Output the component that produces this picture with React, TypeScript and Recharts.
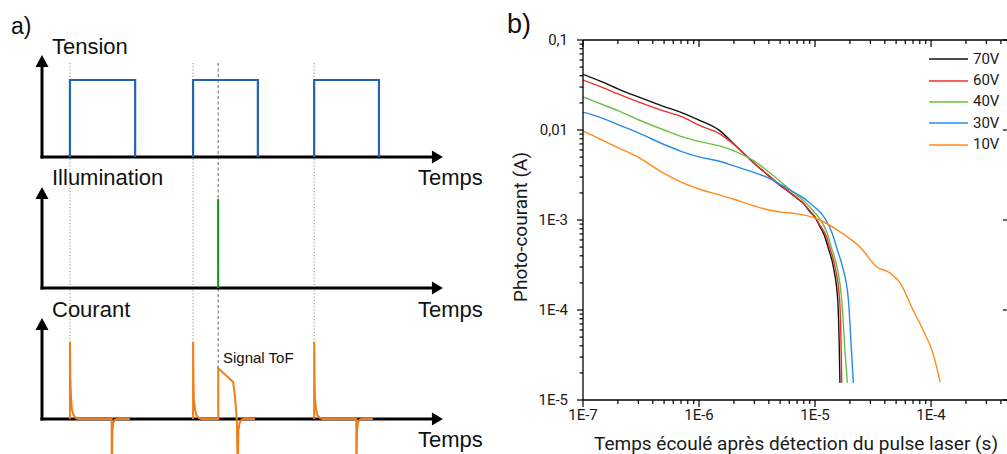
import React from 'react';
import {
  ComposedChart,
  LineChart,
  Line,
  Scatter,
  XAxis,
  YAxis,
  ReferenceLine,
  Legend,
} from 'recharts';

// ---------- panel a : schematic, arbitrary time units ----------
const pulseStarts = [0.69, 3.73, 6.72];
const laserTime = 4.35;

const tension = [
  { t: 0.69, v: 0 }, { t: 0.69, v: 1 }, { t: 2.3, v: 1 }, { t: 2.3, v: 0 }, { t: 3.0, v: null },
  { t: 3.73, v: 0 }, { t: 3.73, v: 1 }, { t: 5.33, v: 1 }, { t: 5.33, v: 0 }, { t: 6.0, v: null },
  { t: 6.72, v: 0 }, { t: 6.72, v: 1 }, { t: 8.32, v: 1 }, { t: 8.32, v: 0 },
];

const illumination = [{ t: 4.35, v: 0 }, { t: 4.35, v: 1 }];

const courant = [
  { t: 0.69, v: 0 }, { t: 0.69, v: 1 }, { t: 0.7, v: 0.51 }, { t: 0.72, v: 0.25 }, { t: 0.74, v: 0.12 },
  { t: 0.78, v: 0.05 }, { t: 0.84, v: 0.01 }, { t: 0.9, v: 0 }, { t: 1.72, v: 0 }, { t: 1.72, v: -1 },
  { t: 1.73, v: -0.45 }, { t: 1.74, v: -0.14 }, { t: 1.76, v: -0.05 }, { t: 1.8, v: -0.01 }, { t: 1.85, v: 0 },
  { t: 2.17, v: 0 }, { t: 2.5, v: null },
  { t: 3.73, v: 0 }, { t: 3.73, v: 1 }, { t: 3.74, v: 0.51 }, { t: 3.75, v: 0.25 }, { t: 3.78, v: 0.12 },
  { t: 3.81, v: 0.05 }, { t: 3.88, v: 0.01 }, { t: 3.94, v: 0 }, { t: 4.35, v: 0 }, { t: 4.35, v: 0.66 },
  { t: 4.72, v: 0.48 }, { t: 4.765, v: 0.29 }, { t: 4.79, v: 0.12 }, { t: 4.81, v: -0.01 }, { t: 4.825, v: -0.45 },
  { t: 4.83, v: -1 }, { t: 4.84, v: -0.45 }, { t: 4.85, v: -0.14 }, { t: 4.88, v: -0.05 }, { t: 4.93, v: -0.01 },
  { t: 4.97, v: 0 }, { t: 5.26, v: 0 }, { t: 5.5, v: null },
  { t: 6.72, v: 0 }, { t: 6.72, v: 1 }, { t: 6.73, v: 0.51 }, { t: 6.74, v: 0.25 }, { t: 6.77, v: 0.12 },
  { t: 6.8, v: 0.05 }, { t: 6.87, v: 0.01 }, { t: 6.93, v: 0 }, { t: 7.76, v: 0 }, { t: 7.76, v: -1 },
  { t: 7.77, v: -0.45 }, { t: 7.78, v: -0.14 }, { t: 7.8, v: -0.05 }, { t: 7.84, v: -0.01 }, { t: 7.89, v: 0 },
  { t: 8.17, v: 0 },
];

// ---------- panel b : photocurrent (A) vs time (s) ----------
const v70 = [
  { t: 1e-7, i: 0.0416 }, { t: 1.5e-7, i: 0.0338 }, { t: 2e-7, i: 0.0287 }, { t: 3e-7, i: 0.0233 },
  { t: 5e-7, i: 0.0182 }, { t: 7e-7, i: 0.0157 }, { t: 1e-6, i: 0.0129 }, { t: 1.5e-6, i: 0.0099 },
  { t: 2e-6, i: 0.007 }, { t: 3e-6, i: 0.00425 }, { t: 4e-6, i: 0.00308 }, { t: 5e-6, i: 0.00242 },
  { t: 6e-6, i: 0.00204 }, { t: 7e-6, i: 0.00174 }, { t: 8e-6, i: 0.00151 }, { t: 9e-6, i: 0.00124 },
  { t: 1e-5, i: 0.00107 }, { t: 1.1e-5, i: 0.00085 }, { t: 1.2e-5, i: 0.00068 }, { t: 1.3e-5, i: 0.00049 },
  { t: 1.44e-5, i: 0.0003 }, { t: 1.57e-5, i: 0.000129 }, { t: 1.62e-5, i: 0.000036 }, { t: 1.64e-5, i: 0.0000155 },
];

const v60 = [
  { t: 1e-7, i: 0.0359 }, { t: 1.5e-7, i: 0.0294 }, { t: 2e-7, i: 0.0252 }, { t: 3e-7, i: 0.0205 },
  { t: 5e-7, i: 0.0162 }, { t: 7e-7, i: 0.0142 }, { t: 1e-6, i: 0.0113 }, { t: 1.5e-6, i: 0.0091 },
  { t: 2e-6, i: 0.0069 }, { t: 3e-6, i: 0.00428 }, { t: 4e-6, i: 0.00311 }, { t: 5e-6, i: 0.00245 },
  { t: 6e-6, i: 0.00206 }, { t: 7e-6, i: 0.00176 }, { t: 8e-6, i: 0.00153 }, { t: 9e-6, i: 0.00127 },
  { t: 1e-5, i: 0.00109 }, { t: 1.1e-5, i: 0.00088 }, { t: 1.24e-5, i: 0.00068 }, { t: 1.34e-5, i: 0.00049 },
  { t: 1.49e-5, i: 0.0003 }, { t: 1.63e-5, i: 0.000129 }, { t: 1.68e-5, i: 0.000036 }, { t: 1.7e-5, i: 0.0000155 },
];

const v40 = [
  { t: 1e-7, i: 0.0233 }, { t: 1.5e-7, i: 0.019 }, { t: 2e-7, i: 0.0164 }, { t: 3e-7, i: 0.013 },
  { t: 5e-7, i: 0.01 }, { t: 7e-7, i: 0.0085 }, { t: 1e-6, i: 0.00747 }, { t: 1.5e-6, i: 0.00665 },
  { t: 2e-6, i: 0.00586 }, { t: 3e-6, i: 0.0045 }, { t: 4e-6, i: 0.00341 }, { t: 5e-6, i: 0.0027 },
  { t: 6e-6, i: 0.00219 }, { t: 7e-6, i: 0.00188 }, { t: 8e-6, i: 0.00164 }, { t: 9e-6, i: 0.0014 },
  { t: 1e-5, i: 0.0012 }, { t: 1.1e-5, i: 0.00103 }, { t: 1.27e-5, i: 0.00072 }, { t: 1.4e-5, i: 0.00047 },
  { t: 1.55e-5, i: 0.0003 }, { t: 1.7e-5, i: 0.000129 }, { t: 1.81e-5, i: 0.000036 }, { t: 1.9e-5, i: 0.0000155 },
];

const v30 = [
  { t: 1e-7, i: 0.0158 }, { t: 1.5e-7, i: 0.0134 }, { t: 2e-7, i: 0.0115 }, { t: 3e-7, i: 0.0093 },
  { t: 5e-7, i: 0.0069 }, { t: 7e-7, i: 0.0058 }, { t: 1e-6, i: 0.00502 }, { t: 1.5e-6, i: 0.0045 },
  { t: 2e-6, i: 0.00399 }, { t: 3e-6, i: 0.00336 }, { t: 4e-6, i: 0.00292 }, { t: 5e-6, i: 0.00249 },
  { t: 6e-6, i: 0.00219 }, { t: 7e-6, i: 0.00194 }, { t: 8e-6, i: 0.00175 }, { t: 9e-6, i: 0.00155 },
  { t: 1e-5, i: 0.00138 }, { t: 1.14e-5, i: 0.00117 }, { t: 1.25e-5, i: 0.00098 }, { t: 1.39e-5, i: 0.00074 },
  { t: 1.58e-5, i: 0.00044 }, { t: 1.73e-5, i: 0.0003 }, { t: 1.94e-5, i: 0.000129 }, { t: 2.06e-5, i: 0.000036 },
  { t: 2.14e-5, i: 0.0000155 },
];

const v10 = [
  { t: 1e-7, i: 0.00975 }, { t: 1.5e-7, i: 0.0076 }, { t: 2e-7, i: 0.00637 }, { t: 3e-7, i: 0.00496 },
  { t: 5e-7, i: 0.00329 }, { t: 7e-7, i: 0.00264 }, { t: 1e-6, i: 0.00221 }, { t: 1.5e-6, i: 0.0019 },
  { t: 2e-6, i: 0.0017 }, { t: 3e-6, i: 0.00143 }, { t: 4e-6, i: 0.00129 }, { t: 5e-6, i: 0.00123 },
  { t: 7e-6, i: 0.00117 }, { t: 1e-5, i: 0.00105 }, { t: 1.1e-5, i: 0.001 }, { t: 1.64e-5, i: 0.00074 },
  { t: 2.44e-5, i: 0.0005 }, { t: 3.42e-5, i: 0.0003 }, { t: 4.43e-5, i: 0.000258 }, { t: 5.41e-5, i: 0.0002 },
  { t: 7e-5, i: 0.0001 }, { t: 8.54e-5, i: 0.00006 }, { t: 1.04e-4, i: 0.000033 }, { t: 1.2e-4, i: 0.0000158 },
];

const seriesNames = ['70V', '60V', '40V', '30V', '10V'];
const seriesColors = ['#111111', '#f0302a', '#6cbd45', '#2a8ae8', '#ff8a18'];
const seriesData = [v70, v60, v40, v30, v10];

const xMajor = [1e-7, 1e-6, 1e-5, 1e-4];
const xMajorLabels = ['1E-7', '1E-6', '1E-5', '1E-4'];
const yMajor = [1e-5, 1e-4, 1e-3, 0.01, 0.1];
const yMajorLabels = ['1E-5', '1E-4', '1E-3', '0,01', '0,1'];
const minorSteps = [2, 3, 4, 5, 6, 7, 8, 9];

const X_MAX = 4.7e-4;
const xMinor = xMajor.flatMap((d) => minorSteps.map((m) => d * m)).filter((v) => v <= X_MAX);
const yMinor = yMajor.slice(0, 4).flatMap((d) => minorSteps.map((m) => d * m));
const xTicks = [...xMajor, ...xMinor];
const yTicks = [...yMajor, ...yMinor];

const ARIAL = "'Liberation Sans', Arial, sans-serif";
const ROBOTO = 'Roboto, sans-serif';

// ---------- panel a layout ----------
const A_W = 500;
const A_H = 454;
const T0_PX = 42;
const PX_PER_T = 40.5;
const T_MIN = -0.5;
const T_MAX = 10.2;
const T_TIP = 9.9;
const T_ARROW_BASE = 9.63;

const bands = [
  { id: 'v', base: 157, unit: 77, tip: 55, data: tension, color: '#2464ac', width: 2.2 },
  { id: 'i', base: 288, unit: 89, tip: 187, data: illumination, color: '#1e8c1e', width: 2 },
  { id: 'c', base: 419, unit: 77, tip: 318, data: courant, color: '#f07d1a', width: 2 },
];

const bandDomain = (base: number, unit: number) => [-(A_H - base) / unit, base / unit];
const guideTop = (419 - 63) / 77;

const RightArrow = (p: any) => (
  <polygon points={`${p.cx},${p.cy} ${p.cx - 11},${p.cy - 6.5} ${p.cx - 11},${p.cy + 6.5}`} fill="#000" />
);
const UpArrow = (p: any) => (
  <polygon points={`${p.cx},${p.cy} ${p.cx - 6.5},${p.cy + 12} ${p.cx + 6.5},${p.cy + 12}`} fill="#000" />
);

const PanelA = () => {
  const left = T0_PX + T_MIN * PX_PER_T;
  const right = A_W - left - (T_MAX - T_MIN) * PX_PER_T;
  return (
    <ComposedChart width={A_W} height={A_H} margin={{ top: 0, right, bottom: 0, left }}>
      <XAxis type="number" dataKey="t" domain={[T_MIN, T_MAX]} hide allowDataOverflow />
      {bands.map((b) => (
        <YAxis key={b.id} yAxisId={b.id} type="number" domain={bandDomain(b.base, b.unit)} hide allowDataOverflow />
      ))}

      {pulseStarts.map((t) => (
        <ReferenceLine
          key={`g${t}`}
          yAxisId="c"
          segment={[{ x: t, y: guideTop }, { x: t, y: 1 }]}
          stroke="#8c8c8c"
          strokeWidth={1}
          strokeDasharray="1.2 2"
        />
      ))}
      <ReferenceLine
        yAxisId="c"
        segment={[{ x: laserTime, y: guideTop }, { x: laserTime, y: 0.66 }]}
        stroke="#666"
        strokeWidth={1}
        strokeDasharray="3 2.5"
      />

      {bands.map((b) => (
        <ReferenceLine
          key={`x${b.id}`}
          yAxisId={b.id}
          segment={[{ x: 0, y: 0 }, { x: T_ARROW_BASE, y: 0 }]}
          stroke="#000"
          strokeWidth={3}
          strokeLinecap="square"
        />
      ))}
      {bands.map((b) => (
        <ReferenceLine
          key={`y${b.id}`}
          yAxisId={b.id}
          segment={[{ x: 0, y: 0 }, { x: 0, y: (b.base - b.tip - 11) / b.unit }]}
          stroke="#000"
          strokeWidth={3}
          strokeLinecap="square"
        />
      ))}

      {bands.map((b) => (
        <Line
          key={`l${b.id}`}
          yAxisId={b.id}
          data={b.data}
          dataKey="v"
          type="linear"
          stroke={b.color}
          strokeWidth={b.width}
          dot={false}
          isAnimationActive={false}
        />
      ))}

      {bands.map((b) => (
        <Scatter
          key={`ax${b.id}`}
          yAxisId={b.id}
          data={[{ t: T_TIP, v: 0 }]}
          dataKey="v"
          shape={RightArrow}
          isAnimationActive={false}
        />
      ))}
      {bands.map((b) => (
        <Scatter
          key={`ay${b.id}`}
          yAxisId={b.id}
          data={[{ t: 0, v: (b.base - b.tip) / b.unit }]}
          dataKey="v"
          shape={UpArrow}
          isAnimationActive={false}
        />
      ))}
    </ComposedChart>
  );
};

// ---------- panel b ticks ----------
const majorIndex = (v: number, majors: number[]) => majors.findIndex((m) => Math.abs(m - v) / m < 1e-6);

const BottomTick = ({ x, y, payload }: any) => {
  const k = majorIndex(payload.value, xMajor);
  return (
    <g>
      <line x1={x} x2={x} y1={y} y2={y + (k >= 0 ? 7 : 4)} stroke="#000" strokeWidth={1.2} />
      {k >= 0 && (
        <text x={x} y={y + 20} textAnchor="middle" fontSize={15} fontFamily={ROBOTO} fill="#1a1a1a">
          {xMajorLabels[k]}
        </text>
      )}
    </g>
  );
};

const TopTick = ({ x, y, payload }: any) => {
  const k = majorIndex(payload.value, xMajor);
  return <line x1={x} x2={x} y1={y} y2={y + (k >= 0 ? 7 : 4)} stroke="#000" strokeWidth={1.2} />;
};

const LeftTick = ({ x, y, payload }: any) => {
  const k = majorIndex(payload.value, yMajor);
  return (
    <g>
      <line x1={x} x2={x - (k >= 0 ? 6 : 3.5)} y1={y} y2={y} stroke="#000" strokeWidth={1.2} />
      {k >= 0 && (
        <text x={x - 15} y={y + 5.3} textAnchor="end" fontSize={15} fontFamily={ROBOTO} fill="#1a1a1a">
          {yMajorLabels[k]}
        </text>
      )}
    </g>
  );
};

const RightTick = ({ x, y }: any) => (
  <line x1={x} x2={x - 6} y1={y} y2={y} stroke="#000" strokeWidth={1.2} />
);

const YTitle = (p: any) => {
  const vb = p.viewBox || { x: 0, y: 40, width: 83, height: 360 };
  const cx = vb.x + 20;
  const cy = vb.y + vb.height / 2 + 7;
  return (
    <text
      x={cx}
      y={cy}
      transform={`rotate(-90 ${cx} ${cy})`}
      textAnchor="middle"
      dominantBaseline="central"
      fontSize={19}
      fontFamily={ROBOTO}
      fill="#1a1a1a"
    >
      Photo-courant (A)
    </text>
  );
};

const LegendBox = () => (
  <div style={{ fontFamily: ROBOTO, fontSize: 15, color: '#1a1a1a' }}>
    {seriesNames.map((name, k) => (
      <div key={name} style={{ display: 'flex', alignItems: 'center', height: 21.4 }}>
        <svg width={39} height={4} style={{ display: 'block' }}>
          <line x1={0} x2={39} y1={2} y2={2} stroke={seriesColors[k]} strokeWidth={1.5} />
        </svg>
        <span style={{ marginLeft: 5, lineHeight: '21.4px' }}>{name}</span>
      </div>
    ))}
  </div>
);

const axisLine = { stroke: '#000', strokeWidth: 1.3 };

const PanelB = () => (
  <LineChart width={520} height={454} margin={{ top: 0, right: 0, bottom: 0, left: 0 }}>
    <XAxis
      dataKey="t"
      type="number"
      scale="log"
      domain={[1e-7, X_MAX]}
      allowDataOverflow
      ticks={xTicks}
      interval={0}
      tickSize={0}
      tickMargin={0}
      tickLine={false}
      tick={BottomTick}
      axisLine={axisLine}
      height={54}
      label={{
        value: 'Temps écoulé après détection du pulse laser (s)',
        position: 'insideBottom',
        offset: 4,
        fontSize: 19,
        fontFamily: ROBOTO,
        fill: '#1a1a1a',
      }}
    />
    <XAxis
      xAxisId="top"
      orientation="top"
      dataKey="t"
      type="number"
      scale="log"
      domain={[1e-7, X_MAX]}
      allowDataOverflow
      ticks={xTicks}
      interval={0}
      tickSize={0}
      tickMargin={0}
      tickLine={false}
      tick={TopTick}
      axisLine={axisLine}
      height={40}
    />
    <YAxis
      type="number"
      scale="log"
      domain={[1e-5, 0.1]}
      allowDataOverflow
      ticks={yTicks}
      interval={0}
      tickSize={0}
      tickMargin={0}
      tickLine={false}
      tick={LeftTick}
      axisLine={axisLine}
      width={83}
      label={{ position: 'insideLeft', content: YTitle }}
    />
    <YAxis
      yAxisId="right"
      orientation="right"
      type="number"
      scale="log"
      domain={[1e-5, 0.1]}
      allowDataOverflow
      ticks={yMajor}
      interval={0}
      tickSize={0}
      tickMargin={0}
      tickLine={false}
      tick={RightTick}
      axisLine={axisLine}
      width={11}
    />
    {seriesData.map((d, k) => (
      <Line
        key={seriesNames[k]}
        name={seriesNames[k]}
        data={d}
        dataKey="i"
        type="monotone"
        stroke={seriesColors[k]}
        strokeWidth={1.4}
        dot={false}
        isAnimationActive={false}
      />
    ))}
    <Legend
      layout="vertical"
      align="center"
      verticalAlign="middle"
      content={() => <LegendBox />}
      wrapperStyle={{ left: 429, top: 48.6, width: 90 }}
    />
  </LineChart>
);

export default function App() {
  const txt = { fontFamily: ARIAL, fill: '#111' };
  return (
    <div style={{ position: 'absolute', left: 0, top: 0, width: 1007, height: 454, overflow: 'hidden', background: '#fff' }}>
      <div style={{ position: 'absolute', left: 0, top: 0 }}>
        <PanelA />
      </div>
      <div style={{ position: 'absolute', left: 500, top: 0 }}>
        <PanelB />
      </div>
      <svg width={1007} height={454} style={{ position: 'absolute', left: 0, top: 0, pointerEvents: 'none' }}>
        <text x={11} y={34} fontSize={23} {...txt}>a)</text>
        <text x={507} y={33} fontSize={27} {...txt}>b)</text>
        <text x={52} y={54} fontSize={22} {...txt}>Tension</text>
        <text x={52} y={185} fontSize={22} {...txt}>Illumination</text>
        <text x={418} y={185} fontSize={22} {...txt}>Temps</text>
        <text x={52} y={317} fontSize={22} {...txt}>Courant</text>
        <text x={418} y={317} fontSize={22} {...txt}>Temps</text>
        <text x={418} y={447} fontSize={22} {...txt}>Temps</text>
        <text x={223} y={363} fontSize={15} {...txt}>Signal ToF</text>
      </svg>
    </div>
  );
}
